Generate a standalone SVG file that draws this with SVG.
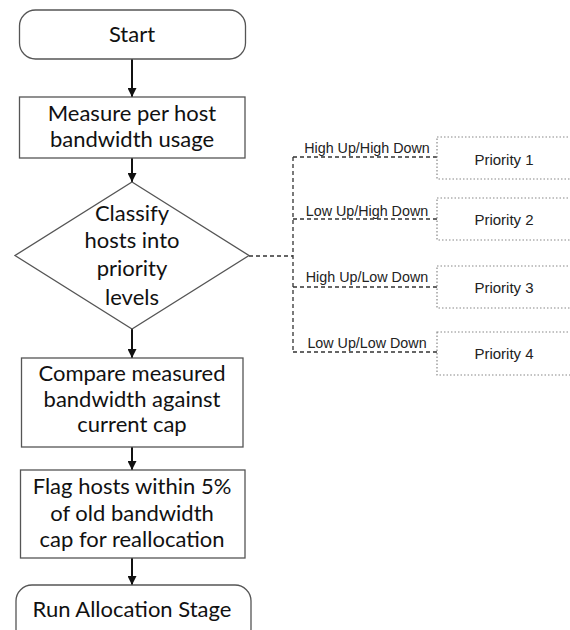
<svg xmlns="http://www.w3.org/2000/svg" width="570" height="630" viewBox="0 0 570 630">
<style>
.box{fill:#fff;stroke:#555;stroke-width:1.3}
.main{font-family:Lato,"Open Sans","Liberation Sans",sans-serif;font-size:22px;fill:#111;text-anchor:middle}
.lbl{font-family:"Liberation Sans",Arial,sans-serif;font-size:14.3px;fill:#222;text-anchor:middle}
.pri{font-family:"Liberation Sans",Arial,sans-serif;font-size:15px;fill:#222;text-anchor:middle}
.pbox{fill:#fff;stroke:#888;stroke-width:1.2;stroke-dasharray:1.5 2}
.flow{stroke:#111;stroke-width:2;fill:none}
.dash{stroke:#333;stroke-width:1.3;fill:none;stroke-dasharray:4 3}
</style>
<defs>
<marker id="ah" viewBox="0 0 10 10" refX="10" refY="5" markerWidth="4.5" markerHeight="4.5" orient="auto" markerUnits="strokeWidth">
<path d="M0,0 L10,5 L0,10 z" fill="#111"/>
</marker>
</defs>
<rect width="570" height="630" fill="#fff"/>
<g id="connectors">
<line class="flow" x1="132" y1="59" x2="132" y2="97" marker-end="url(#ah)"/>
<line class="flow" x1="132" y1="158" x2="132" y2="182" marker-end="url(#ah)"/>
<line class="flow" x1="132" y1="329" x2="132" y2="358" marker-end="url(#ah)"/>
<line class="flow" x1="132" y1="447" x2="132" y2="470" marker-end="url(#ah)"/>
<line class="flow" x1="132" y1="558" x2="132" y2="585" marker-end="url(#ah)"/>
<path class="dash" d="M249,256 H293 M293,157 V352 M293,157 H437 M293,219 H437 M293,287 H437 M293,352 H437"/>
<text class="lbl" x="367" y="153">High Up/High Down</text>
<text class="lbl" x="367" y="216">Low Up/High Down</text>
<text class="lbl" x="367" y="282">High Up/Low Down</text>
<text class="lbl" x="367" y="348">Low Up/Low Down</text>
</g>
<g id="start">
<rect class="box" x="19.5" y="10" width="226" height="49" rx="16"/>
<text class="main" x="132" y="42">Start</text>
</g>
<g id="measure">
<rect class="box" x="19.5" y="97" width="225.5" height="61"/>
<text class="main" x="132" y="121">Measure per host</text>
<text class="main" x="132" y="147">bandwidth usage</text>
</g>
<g id="classify">
<polygon class="box" points="132,182 249,255.5 132,329 15,255.5"/>
<text class="main" x="132" y="221">Classify</text>
<text class="main" x="132" y="248">hosts into</text>
<text class="main" x="132" y="276">priority</text>
<text class="main" x="132" y="305">levels</text>
</g>
<g id="compare">
<rect class="box" x="21.5" y="358" width="221.5" height="89"/>
<text class="main" x="132" y="381">Compare measured</text>
<text class="main" x="132" y="407">bandwidth against</text>
<text class="main" x="132" y="432">current cap</text>
</g>
<g id="flag">
<rect class="box" x="20.5" y="470" width="224.5" height="88"/>
<text class="main" x="132" y="494">Flag hosts within 5%</text>
<text class="main" x="132" y="521">of old bandwidth</text>
<text class="main" x="132" y="547">cap for reallocation</text>
</g>
<g id="run">
<rect class="box" x="16" y="585" width="235" height="60" rx="16"/>
<text class="main" x="132" y="617">Run Allocation Stage</text>
</g>
<g id="priority1">
<rect class="pbox" x="437" y="137" width="145" height="42"/>
<text class="pri" x="504" y="165">Priority 1</text>
</g>
<g id="priority2">
<rect class="pbox" x="437" y="198" width="145" height="42"/>
<text class="pri" x="504" y="225">Priority 2</text>
</g>
<g id="priority3">
<rect class="pbox" x="437" y="266" width="145" height="42"/>
<text class="pri" x="504" y="293">Priority 3</text>
</g>
<g id="priority4">
<rect class="pbox" x="437" y="332" width="145" height="43"/>
<text class="pri" x="504" y="359">Priority 4</text>
</g>
</svg>
